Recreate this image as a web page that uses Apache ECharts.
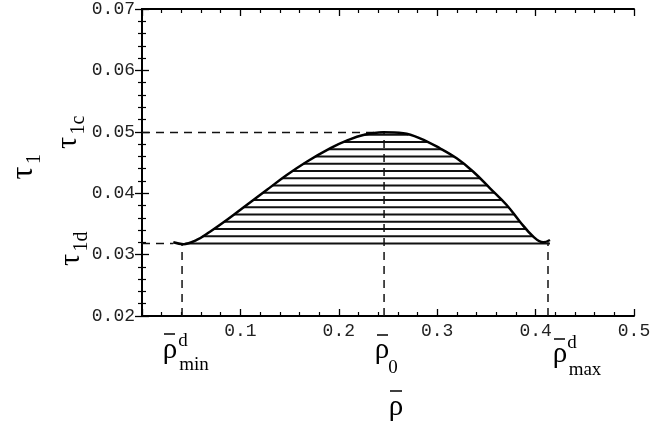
<!DOCTYPE html>
<html>
<head>
<meta charset="utf-8">
<script src="https://cdn.jsdelivr.net/npm/echarts@6/dist/echarts.min.js"></script>
<style>
  html, body { margin: 0; padding: 0; background: #fff; }
  #main { width: 671px; height: 430px; }
</style>
</head>
<body>
<div id="main"></div>
<script>
// curve
var rho = [0.0318, 0.0420, 0.0556, 0.0691, 0.0861, 0.1064, 0.1267, 0.1471, 0.1674, 0.1911,
           0.2080, 0.2249, 0.2452, 0.2655, 0.2825, 0.3028, 0.3198, 0.3367, 0.3537, 0.3706,
           0.3841, 0.3977, 0.4078, 0.4146];
var tau = [0.0320, 0.0317, 0.03238, 0.03373, 0.03563, 0.03808, 0.04052, 0.04296, 0.04513, 0.04731,
           0.04855, 0.04948, 0.04992, 0.04976, 0.04894, 0.04731, 0.04568, 0.0435, 0.0408, 0.03808,
           0.03536, 0.03292, 0.0320, 0.03238];

// marked values
var rhoMin = 0.0407, rho0 = 0.246, rhoMax = 0.4126;
var tau1c = 0.0499, tau1d = 0.0318;
var xTicks = [0.1, 0.2, 0.3, 0.4, 0.5];
var yTicks = [0.02, 0.03, 0.04, 0.05, 0.06, 0.07];

var hatchStep = 0.00118;

var curve = rho.map(function (r, i) { return [r, tau[i]]; });

// find peak index
var peak = 0;
tau.forEach(function (t, i) { if (t > tau[peak]) peak = i; });

function crossLeft(level) {
  for (var i = peak; i > 0; i--) {
    if (tau[i - 1] < level) {
      var f = (level - tau[i - 1]) / (tau[i] - tau[i - 1]);
      return rho[i - 1] + f * (rho[i] - rho[i - 1]);
    }
  }
  return rho[0];
}
function crossRight(level) {
  for (var i = peak; i < tau.length - 1; i++) {
    if (tau[i + 1] < level) {
      var f = (tau[i] - level) / (tau[i] - tau[i + 1]);
      return rho[i] + f * (rho[i + 1] - rho[i]);
    }
  }
  return rho[rho.length - 1];
}

var series = [];
for (var lv = tau1d; lv < tau[peak] - 0.0003; lv += hatchStep) {
  series.push({
    type: 'line', silent: true, symbol: 'none', animation: false,
    lineStyle: { color: '#111', width: 2 },
    data: [[crossLeft(lv), lv], [crossRight(lv), lv]]
  });
}

var dash = { color: '#111', width: 1.5, type: [8, 6] };
function dashed(pts) {
  return { type: 'line', silent: true, symbol: 'none', animation: false, lineStyle: dash, data: pts };
}
series.push(dashed([[0, tau1c], [rho0, tau1c]]));
series.push(dashed([[0, tau1d], [rho[0], tau1d]]));
series.push(dashed([[rhoMin, 0.02], [rhoMin, tau[1]]]));
series.push(dashed([[rho0, 0.02], [rho0, tau1c]]));
series.push(dashed([[rhoMax, 0.02], [rhoMax, tau[22]]]));

series.push({
  type: 'line', symbol: 'none', animation: false, smooth: 0.4,
  lineStyle: { color: '#000', width: 2.5 },
  data: curve, z: 5
});

var monoLabel = { color: '#222', fontFamily: 'Liberation Mono', fontSize: 18 };
var axisLine = { show: true, lineStyle: { color: '#000', width: 2 } };

var serif = 'Liberation Serif';
function txt(x, y, s, size) {
  return {
    type: 'text', x: x, y: y,
    style: { text: s, font: size + 'px "' + serif + '"', fill: '#000', align: 'center', verticalAlign: 'middle' }
  };
}
// rotated title, reads bottom to top: main glyph at (x, y), subscript after it
function vtitle(x, y, sub, size) {
  return {
    type: 'group', x: x, y: y, rotation: Math.PI / 2,
    children: [
      { type: 'text', x: 0, y: 0,
        style: { text: 'τ', font: size + 'px "' + serif + '"', fill: '#000', align: 'center', verticalAlign: 'middle' } },
      { type: 'text', x: size * 0.28, y: 11,
        style: { text: sub, font: '20px "' + serif + '"', fill: '#000', align: 'left', verticalAlign: 'middle' } }
    ]
  };
}
function bar(x1, x2, y) {
  return { type: 'line', shape: { x1: x1, y1: y, x2: x2, y2: y }, style: { stroke: '#000', lineWidth: 1.5 } };
}

var chart = echarts.init(document.getElementById('main'));
chart.setOption({
  backgroundColor: '#fff',
  animation: false,
  grid: { left: 142, right: 37, top: 9, bottom: 114 },
  xAxis: [{
    type: 'value', min: 0, max: 0.5, interval: 0.1,
    axisLine: axisLine,
    axisTick: { inside: true, length: 7, lineStyle: { color: '#000', width: 1.3 } },
    minorTick: { show: true, splitNumber: 5, length: 4, lineStyle: { color: '#000', width: 1.2 } },
    splitLine: { show: false },
    axisLabel: Object.assign({ margin: 6, formatter: function (v) {
      return xTicks.indexOf(+v.toFixed(1)) >= 0 ? v.toFixed(1) : '';
    } }, monoLabel)
  }, {
    type: 'value', position: 'top', min: 0, max: 0.5, interval: 0.1,
    axisLine: axisLine,
    axisTick: { inside: true, length: 7, lineStyle: { color: '#000', width: 1.3 } },
    minorTick: { show: true, splitNumber: 5, length: 4, lineStyle: { color: '#000', width: 1.2 } },
    splitLine: { show: false }, axisLabel: { show: false }
  }],
  yAxis: [{
    type: 'value', min: 0.02, max: 0.07, interval: 0.01,
    axisLine: axisLine,
    axisTick: { inside: true, length: 7, lineStyle: { color: '#000', width: 1.3 } },
    minorTick: { show: true, splitNumber: 5, length: 4, lineStyle: { color: '#000', width: 1.2 } },
    splitLine: { show: false },
    axisLabel: Object.assign({ margin: 7, formatter: function (v) {
      return yTicks.indexOf(+v.toFixed(2)) >= 0 ? v.toFixed(2) : '';
    } }, monoLabel)
  }, {
    type: 'value', position: 'right', min: 0.02, max: 0.07, interval: 0.01,
    axisLine: axisLine,
    axisTick: { inside: true, length: 7, lineStyle: { color: '#000', width: 1.3 } },
    minorTick: { show: true, splitNumber: 5, length: 4, lineStyle: { color: '#000', width: 1.2 } },
    splitLine: { show: false }, axisLabel: { show: false }
  }],
  graphic: [
    vtitle(24, 173, '1', 32),
    vtitle(68, 143, '1c', 30),
    vtitle(71, 260, '1d', 30),
    // bottom labels
    txt(170, 350, 'ρ', 29), bar(164, 175, 334), txt(183, 341, 'd', 19), txt(194, 365, 'min', 19),
    txt(382, 350, 'ρ', 29), bar(377, 388, 335), txt(393, 368, '0', 19),
    txt(560, 354, 'ρ', 29), bar(554, 565, 339), txt(572, 343, 'd', 19), txt(585, 370, 'max', 19),
    txt(396, 407, 'ρ', 29), bar(390, 402, 391)
  ],
  series: series
});
</script>
</body>
</html>
